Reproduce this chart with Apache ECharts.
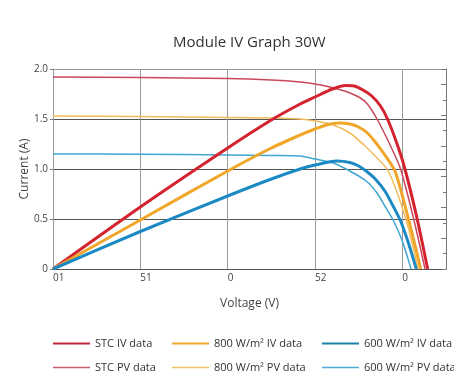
<!DOCTYPE html>
<html>
<head>
<meta charset="utf-8">
<script src="https://cdn.jsdelivr.net/npm/echarts@6/dist/echarts.min.js"></script>
<style>
  html, body { margin: 0; padding: 0; background: #fff; }
  #chart { width: 454px; height: 372px; }
</style>
</head>
<body>
<div id="chart"></div>
<script>
// x positions are in grid steps (the axis labels are printed as they are in the source)
const xTickLabels = ['01', '51', '0', '52', '0'];
const yTicks = [0, 0.5, 1.0, 1.5, 2.0];

const stcIV = [[0, 0], [1, 0.62], [2, 1.21], [2.5, 1.49], [2.83, 1.65], [3, 1.72], [3.2, 1.8], [3.35, 1.835],
  [3.45, 1.83], [3.55, 1.79], [3.65, 1.73], [3.75, 1.63], [3.83, 1.5], [3.94, 1.25], [4.03, 1.0],
  [4.17, 0.5], [4.29, 0]];
const stcPV = [[0, 1.92], [1, 1.915], [2, 1.905], [2.5, 1.89], [2.83, 1.87], [3, 1.85], [3.17, 1.82],
  [3.3, 1.79], [3.4, 1.76], [3.52, 1.71], [3.6, 1.65], [3.71, 1.5], [3.86, 1.24], [3.98, 1.0],
  [4.13, 0.5], [4.26, 0]];
const w800IV = [[0, 0], [1, 0.49], [2, 0.98], [2.5, 1.21], [2.83, 1.34], [3, 1.4], [3.15, 1.445],
  [3.28, 1.46], [3.4, 1.45], [3.5, 1.42], [3.6, 1.36], [3.69, 1.27], [3.8, 1.14], [3.92, 0.97],
  [4.07, 0.5], [4.21, 0]];
const w800PV = [[0, 1.53], [1, 1.525], [2, 1.515], [2.5, 1.51], [2.83, 1.5], [3, 1.48], [3.21, 1.44],
  [3.4, 1.36], [3.56, 1.24], [3.7, 1.12], [3.84, 0.98], [4.04, 0.5], [4.18, 0]];
const w600IV = [[0, 0], [1, 0.375], [2, 0.73], [2.5, 0.9], [2.83, 1.0], [3, 1.04], [3.25, 1.08],
  [3.4, 1.065], [3.5, 1.03], [3.6, 0.97], [3.69, 0.9], [3.8, 0.78], [3.9, 0.62], [3.98, 0.48],
  [4.07, 0.26], [4.16, 0]];
const w600PV = [[0, 1.15], [1, 1.148], [2, 1.14], [2.5, 1.135], [2.83, 1.13], [3, 1.1], [3.21, 1.06],
  [3.44, 0.96], [3.6, 0.87], [3.71, 0.76], [3.8, 0.63], [3.9, 0.48], [4.0, 0.28], [4.1, 0]];

const font = '"Open Sans", "Noto Sans", sans-serif';

function line(name, data, color, width) {
  return {
    name: name,
    type: 'line',
    data: data,
    symbol: 'none',
    smooth: 0.25,
    color: color,
    lineStyle: { color: color, width: width },
    z: width > 2 ? 3 : 2
  };
}

// one legend per entry so the columns line up like the source
function legendItem(left, top, name, thick, color) {
  return {
    left: left,
    top: top,
    icon: 'rect',
    itemWidth: 37,
    itemHeight: thick,
    selectedMode: false,
    textStyle: { fontFamily: font, fontSize: 11, color: '#333' },
    data: [{ name: name, itemStyle: { color: color } }]
  };
}

let myChart = echarts.init(document.getElementById('chart'), null, { renderer: 'canvas' });
myChart.setOption({
  animation: false,
  title: {
    text: 'Module IV Graph 30W',
    left: 168,
    top: 30,
    textStyle: { fontFamily: font, fontSize: 15, fontWeight: 'normal', color: '#333' }
  },
  legend: [
    legendItem(48, 333, 'STC IV data', 2, '#c0283a'),
    legendItem(48, 357, 'STC PV data', 1.5, '#cf5a6c'),
    legendItem(167, 333, '800 W/m² IV data', 2, '#ecab2c'),
    legendItem(167, 357, '800 W/m² PV data', 1.5, '#f1c462'),
    legendItem(317, 333, '600 W/m² IV data', 2, '#1c82aa'),
    legendItem(317, 357, '600 W/m² PV data', 1.5, '#4faad3')
  ],
  grid: { left: 53, right: 8, top: 69, bottom: 103 },
  xAxis: {
    type: 'value',
    min: 0,
    max: 4.5,
    interval: 1,
    name: 'Voltage (V)',
    nameLocation: 'middle',
    nameGap: 29,
    nameTextStyle: { fontFamily: font, fontSize: 12, color: '#444' },
    axisLine: { show: true, lineStyle: { color: '#555', width: 1 } },
    axisTick: { show: false },
    axisLabel: {
      fontFamily: font, fontSize: 10, color: '#444', margin: 4, align: 'left',
      formatter: function (v) {
        return Number.isInteger(v) && v < xTickLabels.length ? xTickLabels[v] : '';
      }
    },
    splitLine: { show: true, lineStyle: { color: '#9a9a9a', width: 1 } }
  },
  yAxis: [{
    type: 'value',
    min: 0,
    max: 2,
    interval: 0.5,
    name: 'Current (A)',
    nameLocation: 'middle',
    nameGap: 22,
    nameMoveOverlap: false,
    nameTextStyle: { fontFamily: font, fontSize: 12, color: '#444' },
    axisLine: { show: true, lineStyle: { color: '#9a9a9a' } },
    axisTick: { show: true, length: 3, lineStyle: { color: '#777' } },
    axisLabel: {
      fontFamily: font, fontSize: 10, color: '#444', margin: 5,
      formatter: function (v) { return v === 0 ? '0' : v.toFixed(1); }
    },
    splitLine: { show: true, lineStyle: { color: ['#555', '#555', '#555', '#555', '#9a9a9a'], width: 1 } }
  }, {
    type: 'value',
    position: 'right',
    min: 0,
    max: 6.5,
    interval: 1,
    axisLine: { show: true, lineStyle: { color: '#777' } },
    axisTick: { show: true, inside: true, length: 5, lineStyle: { color: '#777' } },
    minorTick: { show: true, splitNumber: 2, length: 3, lineStyle: { color: '#777' } },
    axisLabel: { show: false },
    splitLine: { show: false }
  }],
  series: [
    line('STC IV data', stcIV, '#d4232e', 3),
    line('800 W/m² IV data', w800IV, '#f0a628', 3),
    line('600 W/m² IV data', w600IV, '#1b89c4', 3),
    line('STC PV data', stcPV, '#c9475a', 1.5),
    line('800 W/m² PV data', w800PV, '#f1bd5c', 1.5),
    line('600 W/m² PV data', w600PV, '#3fa6d4', 1.5)
  ]
});
</script>
</body>
</html>
